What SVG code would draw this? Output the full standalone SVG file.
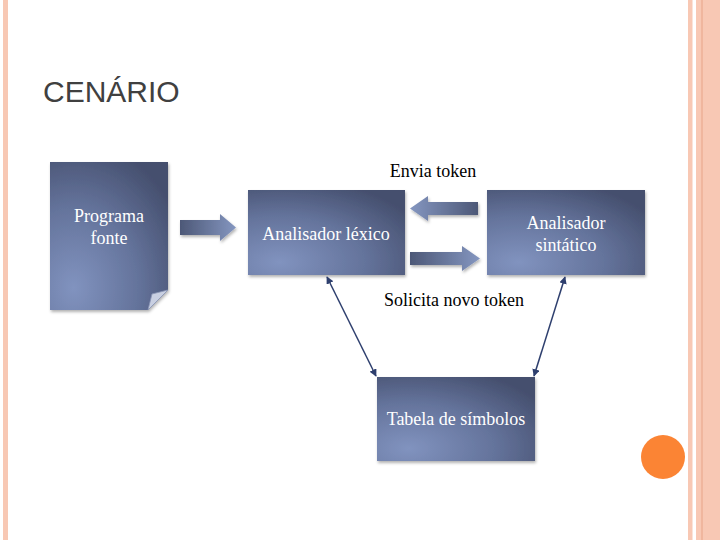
<svg xmlns="http://www.w3.org/2000/svg" width="720" height="540" viewBox="0 0 720 540">
<defs>
<radialGradient id="boxg" cx="0.2" cy="0.85" r="1" fx="0.2" fy="0.85">
<stop offset="0" stop-color="#8193bf"/>
<stop offset="0.55" stop-color="#64739b"/>
<stop offset="1" stop-color="#454f6e"/>
</radialGradient>
<linearGradient id="arrR" x1="0" y1="0" x2="1" y2="0">
<stop offset="0" stop-color="#4d5877"/>
<stop offset="1" stop-color="#8496c0"/>
</linearGradient>
<linearGradient id="arrL" x1="1" y1="0" x2="0" y2="0">
<stop offset="0" stop-color="#4d5877"/>
<stop offset="1" stop-color="#8496c0"/>
</linearGradient>
<filter id="sh" x="-10%" y="-10%" width="125%" height="130%">
<feDropShadow dx="1" dy="2" stdDeviation="1.5" flood-color="#000" flood-opacity="0.3"/>
</filter>
<marker id="ah" viewBox="0 0 10 10" refX="9" refY="5" markerWidth="5" markerHeight="5" orient="auto-start-reverse">
<path d="M0,0 L10,5 L0,10 z" fill="#2e3f6e"/>
</marker>
</defs>
<style>
.lbl{font-family:"Liberation Serif",serif;font-size:18px;fill:#ffffff;text-anchor:middle}
.cap{font-family:"Liberation Serif",serif;font-size:18px;fill:#000000;text-anchor:middle}
.box{fill:url(#boxg);filter:url(#sh)}
.conn{stroke:#2e3f6e;stroke-width:1.5;fill:none}
</style>
<rect width="720" height="540" fill="#ffffff"/>
<rect x="3" y="0" width="5" height="540" fill="#f8c8b4"/>
<rect x="688" y="0" width="4.5" height="540" fill="#f8c8b4"/>
<rect x="696" y="0" width="24" height="540" fill="#f8c8b4"/>
<rect x="701.5" y="0" width="1" height="540" fill="#e8a488"/>
<circle cx="663" cy="457" r="22" fill="#fb8434"/>
<text x="43" y="102" font-family="Liberation Sans, sans-serif" font-size="30" fill="#404040">CENÁRIO</text>

<g id="programa-fonte">
<path class="box" d="M50,162 H168 V290 L148,310 H50 Z"/>
<path d="M148,310 L152,294 L168,290 Z" fill="#c9d0e2" stroke="#8c97b6" stroke-width="0.8"/>
<text class="lbl" x="109" y="222">Programa</text>
<text class="lbl" x="109" y="244">fonte</text>
</g>
<g id="seta-entrada">
<path d="M180,220 H220 V214 L236,227.5 L220,241 V235 H180 Z" fill="url(#arrR)" filter="url(#sh)"/>
</g>
<g id="analisador-lexico">
<rect class="box" x="248" y="190" width="157" height="85"/>
<text class="lbl" x="326" y="240">Analisador léxico</text>
</g>
<g id="analisador-sintatico">
<rect class="box" x="487" y="190" width="158" height="85"/>
<text class="lbl" x="566" y="229">Analisador</text>
<text class="lbl" x="566" y="251">sintático</text>
</g>
<g id="tabela-simbolos">
<rect class="box" x="377" y="377" width="158" height="84"/>
<text class="lbl" x="456" y="425">Tabela de símbolos</text>
</g>
<g id="connectors">
<path d="M478,202 H428 V196 L410,208.5 L428,221 V215 H478 Z" fill="url(#arrL)" filter="url(#sh)"/>
<path d="M410,252 H462 V246 L480,258.5 L462,271 V265 H410 Z" fill="url(#arrR)" filter="url(#sh)"/>
<line class="conn" x1="327" y1="277" x2="376" y2="376" marker-start="url(#ah)" marker-end="url(#ah)"/>
<line class="conn" x1="565" y1="277" x2="534" y2="376" marker-start="url(#ah)" marker-end="url(#ah)"/>
<text class="cap" x="433" y="177">Envia token</text>
<text class="cap" x="454" y="306">Solicita novo token</text>
</g>
</svg>
